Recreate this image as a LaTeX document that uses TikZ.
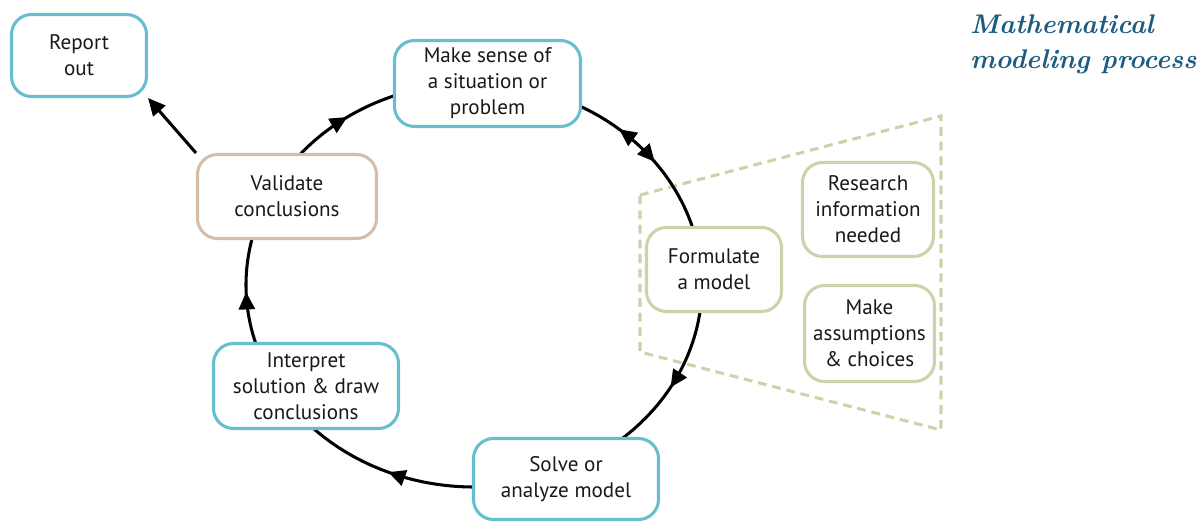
\documentclass[tikz,border=0pt]{standalone}
\usepackage{fontspec}
\newfontfamily\boxfont{PT Sans}
\usetikzlibrary{arrows.meta,calc,decorations.markings,backgrounds}
\definecolor{boxteal}{RGB}{102,190,206}
\definecolor{boxtan}{RGB}{212,190,168}
\definecolor{boxolive}{RGB}{206,210,170}
\definecolor{titleblue}{RGB}{28,92,128}

\begin{document}
\begin{tikzpicture}[x=0.03cm,y=0.03cm,>={Triangle[length=0.52cm,width=0.48cm]},
  box/.style={rounded corners=0.6cm,line width=2.6pt,fill=white,align=center,inner sep=0pt,
    font=\boxfont\fontsize{18}{22.1}\selectfont,text=black!90},
  tealbox/.style={box,draw=boxteal},
  tanbox/.style={box,draw=boxtan},
  olivebox/.style={box,draw=boxolive},
  cyc/.style={line width=2.6pt},
  midtip/.style={postaction={decorate},decoration={markings,mark=at position #1 with {\arrow{>}}}}]
\useasboundingbox (0,0) rectangle (1204,523);
\coordinate (C) at (474,238);

\node[tealbox,minimum width=4.05cm,minimum height=2.46cm] (report) at (79,467.5) {Report\\out};
\node[tealbox,minimum width=5.58cm,minimum height=2.58cm] (sense) at (487.5,439.5) {Make sense of\\a situation or\\problem};
\node[olivebox,minimum width=4.05cm,minimum height=2.52cm] (formulate) at (714,253.5) {Formulate\\a model};
\node[olivebox,minimum width=3.93cm,minimum height=2.82cm] (research) at (868,313.5) {Research\\information\\needed};
\node[olivebox,minimum width=3.9cm,minimum height=2.88cm] (assume) at (869.5,189.5) {Make\\assumptions\\\& choices};
\node[tealbox,minimum width=5.55cm,minimum height=2.43cm] (solve) at (566,44) {Solve or\\analyze model};
\node[tealbox,minimum width=5.55cm,minimum height=2.55cm] (interpret) at (306,137) {Interpret\\solution \& draw\\conclusions};
\node[tanbox,minimum width=5.37cm,minimum height=2.52cm] (validate) at (287,326.5) {Validate\\conclusions};

\node[anchor=west,inner sep=0pt,align=left,text=titleblue,font=\fontsize{23}{30}\selectfont\bfseries\itshape] (title) at (970,478.5) {Mathematical\\modeling process};

\draw[cyc,->] (validate.north west) -- (report.south east);

\begin{scope}[on background layer]
\draw[boxolive,line width=2.6pt,dash pattern=on 7.5pt off 5pt] (640,328) -- (941,407) -- (941,93) -- (640,171) -- cycle;
\foreach \a/\b/\p in {141/108/0.515,-3/-50/0.574,272/224/0.51,199/164/0.486}
  \draw[cyc,midtip=\p] ($(C)+(\a:228 and 202)$) arc[start angle=\a,end angle=\b,x radius=228,y radius=202];
\draw[cyc,postaction={decorate},decoration={markings,
    mark=at position 0.29 with {\arrowreversed{>}},mark=at position 0.54 with {\arrow{>}}}]
  ($(C)+(65:228 and 202)$) arc[start angle=65,end angle=13,x radius=228,y radius=202];
\end{scope}
\end{tikzpicture}
\end{document}
